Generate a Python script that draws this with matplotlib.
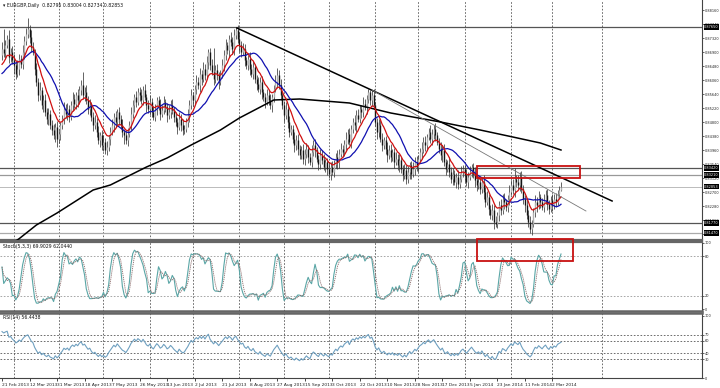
import numpy as np
import pandas as pd
import matplotlib
matplotlib.use('Agg')
import matplotlib.pyplot as plt
from matplotlib.patches import Rectangle

# ---- data ----
# MT4 daily bars incl. small Sunday bars (no Saturdays)
dates = pd.date_range('2013-02-21', '2014-03-07', freq='D')
dates = dates[dates.dayofweek != 5]

# closes before the first visible bar (only used to warm up the indicators)
warmup_close = [0.8560, 0.8600, 0.8575, 0.8620, 0.8590, 0.8570, 0.8610, 0.8640, 0.8605, 0.8585,
                0.8625, 0.8650, 0.8615, 0.8600, 0.8645, 0.8670, 0.8640, 0.8625, 0.8665, 0.8680]

close = [
    0.8700, 0.8688, 0.8712, 0.8730, 0.8676, 0.8690, 0.8665,
    0.8650, 0.8625, 0.8640, 0.8668, 0.8655, 0.8690,
    0.8722, 0.8745, 0.8760, 0.8735,
    0.8705, 0.8690, 0.8640, 0.8600, 0.8560, 0.8575, 0.8530, 0.8545, 0.8510, 0.8490, 0.8505, 0.8470,
    0.8455, 0.8440, 0.8465, 0.8430, 0.8445, 0.8470, 0.8490, 0.8520,
    0.8505, 0.8520, 0.8495, 0.8530, 0.8550, 0.8535, 0.8560, 0.8545, 0.8575, 0.8590, 0.8560,
    0.8570, 0.8545, 0.8520, 0.8530, 0.8495, 0.8470, 0.8480, 0.8450,
    0.8425, 0.8440, 0.8410, 0.8420, 0.8395, 0.8405, 0.8430, 0.8450,
    0.8470, 0.8495, 0.8480, 0.8510, 0.8490, 0.8470, 0.8450,
    0.8440, 0.8425, 0.8445, 0.8470,
    0.8505, 0.8530, 0.8555, 0.8540, 0.8570, 0.8560, 0.8545, 0.8575, 0.8555, 0.8530,
    0.8520, 0.8540, 0.8510, 0.8495, 0.8520, 0.8545, 0.8530, 0.8505, 0.8515, 0.8540, 0.8525, 0.8500,
    0.8510, 0.8530, 0.8515, 0.8495,
    0.8480, 0.8465, 0.8490, 0.8470, 0.8455, 0.8460, 0.8480,
    0.8500, 0.8530, 0.8560, 0.8545, 0.8580, 0.8600, 0.8590, 0.8625, 0.8610,
    0.8640, 0.8620, 0.8660, 0.8690, 0.8650, 0.8630, 0.8610, 0.8635, 0.8620, 0.8600, 0.8625, 0.8650,
    0.8680, 0.8710, 0.8695, 0.8730, 0.8720, 0.8700, 0.8740, 0.8755, 0.8730,
    0.8710, 0.8690, 0.8700, 0.8665, 0.8650, 0.8670, 0.8640, 0.8625, 0.8645, 0.8610, 0.8595, 0.8580, 0.8600,
    0.8570, 0.8555, 0.8540, 0.8560, 0.8545, 0.8530, 0.8555, 0.8580, 0.8600, 0.8620,
    0.8590, 0.8560, 0.8530, 0.8500, 0.8520, 0.8480, 0.8450, 0.8460, 0.8430, 0.8410, 0.8425, 0.8400,
    0.8380, 0.8395, 0.8370,
    0.8385, 0.8400, 0.8375, 0.8360, 0.8390, 0.8410, 0.8395, 0.8370, 0.8355, 0.8380, 0.8365, 0.8345,
    0.8360, 0.8340, 0.8325, 0.8345, 0.8330, 0.8355, 0.8375, 0.8360, 0.8385, 0.8400, 0.8390, 0.8415,
    0.8430, 0.8445, 0.8420, 0.8460, 0.8480, 0.8470, 0.8500, 0.8490, 0.8520, 0.8510, 0.8535, 0.8525,
    0.8550, 0.8570, 0.8545, 0.8560,
    0.8530, 0.8480, 0.8450, 0.8470, 0.8430, 0.8410, 0.8425, 0.8400, 0.8380, 0.8395, 0.8375, 0.8390, 0.8360,
    0.8370, 0.8350, 0.8365, 0.8340, 0.8320, 0.8335, 0.8310, 0.8330, 0.8350, 0.8325, 0.8340, 0.8360,
    0.8345, 0.8370, 0.8390,
    0.8400, 0.8420, 0.8410, 0.8435, 0.8450, 0.8430, 0.8445, 0.8460, 0.8440, 0.8420,
    0.8400, 0.8380, 0.8395, 0.8360, 0.8340, 0.8355, 0.8330, 0.8310, 0.8325, 0.8300, 0.8315, 0.8295, 0.8310,
    0.8330, 0.8340, 0.8320, 0.8300, 0.8315, 0.8330, 0.8345, 0.8325, 0.8305, 0.8290, 0.8300, 0.8280,
    0.8300, 0.8270, 0.8240, 0.8255, 0.8220, 0.8200, 0.8215, 0.8180, 0.8175,
    0.8200, 0.8230, 0.8215, 0.8250, 0.8240, 0.8225, 0.8250, 0.8270, 0.8290, 0.8275, 0.8310, 0.8300,
    0.8290, 0.8315,
    0.8280, 0.8250, 0.8230, 0.8200, 0.8180, 0.8160, 0.8175,
    0.8210, 0.8240, 0.8230, 0.8255, 0.8240, 0.8225, 0.8245, 0.8260, 0.8235, 0.8220, 0.8245, 0.8230,
    0.8250, 0.8240, 0.8265, 0.8275, 0.8285,
]

# wick lengths above / below the candle body, in pips
wick_up = [
    20, 60, 15, 10, 25, 12, 18, 20, 10, 25, 15, 12, 20, 15, 18, 32, 12, 20, 15, 10,
    18, 12, 25, 10, 15, 20, 12, 18, 10, 15, 20, 12, 18, 15, 10, 12, 20, 15, 18, 10,
    12, 20, 15, 10, 18, 12, 15, 40, 15, 20, 12, 18, 10, 15, 20, 12, 18, 10, 15, 20,
    12, 18, 10, 15, 20, 12, 18, 10, 15, 12, 20, 10, 15, 18, 12, 20, 15, 10, 18, 12,
    15, 20, 12, 18, 10, 15, 20, 12, 18, 15, 10, 12, 20, 15, 18, 10, 12, 20, 15, 18,
    10, 15, 12, 20, 15, 18, 10, 12, 20, 15, 18, 10, 12, 20, 15, 18, 12, 20, 15, 18,
    10, 12, 20, 72, 15, 18, 10, 12, 20, 15, 18, 10, 12, 20, 15, 18, 10, 15, 20, 12,
    18, 15, 10, 12, 20, 15, 18, 10, 12, 20, 15, 18, 10, 12, 20, 15, 18, 10, 12, 20,
    22, 15, 18, 10, 12, 20, 15, 18, 10, 12, 20, 15, 18, 10, 12, 20, 15, 18, 10, 12,
    20, 15, 18, 10, 12, 20, 15, 18, 10, 12, 20, 15, 18, 10, 12, 20, 15, 18, 10, 12,
    20, 15, 18, 10, 12, 20, 15, 18, 10, 12, 20, 15, 12, 8, 5, 15, 18, 10, 12, 20,
    15, 18, 10, 12, 20, 15, 18, 10, 12, 20, 15, 18, 10, 12, 20, 15, 18, 10, 12, 20,
    15, 18, 10, 12, 20, 15, 18, 10, 12, 20, 15, 12, 18, 10, 12, 20, 15, 18, 10, 12,
    20, 15, 18, 10, 12, 20, 15, 18, 10, 12, 20, 15, 18, 10, 12, 20, 15, 18, 10, 12,
    20, 15, 18, 10, 12, 20, 15, 18, 10, 12, 20, 15, 18, 10, 12, 20, 15, 18, 32, 12,
    20, 15, 18, 10, 12, 20, 15, 18, 10, 12, 20, 15, 18, 10, 12, 20, 15, 18, 10, 12,
    20, 15, 18, 10, 12, 15,
]
wick_dn = [
    15, 12, 20, 10, 18, 15, 12, 25, 15, 10, 18, 12, 15, 20, 10, 12, 18, 15, 10, 20,
    12, 18, 15, 10, 20, 12, 15, 18, 10, 15, 12, 20, 25, 12, 18, 10, 15, 12, 20, 15,
    10, 18, 12, 15, 20, 10, 15, 12, 18, 10, 15, 20, 12, 18, 10, 15, 12, 20, 15, 18,
    10, 15, 12, 18, 10, 20, 15, 12, 18, 10, 15, 25, 12, 18, 10, 15, 12, 20, 15, 10,
    18, 12, 15, 10, 20, 12, 18, 15, 10, 12, 20, 15, 18, 10, 12, 15, 20, 12, 18, 10,
    15, 12, 20, 10, 18, 15, 12, 10, 15, 20, 12, 18, 10, 15, 12, 20, 18, 10, 15, 12,
    20, 15, 10, 18, 12, 15, 20, 10, 12, 18, 15, 10, 20, 12, 15, 18, 10, 12, 20, 15,
    10, 18, 12, 15, 20, 10, 15, 12, 18, 10, 15, 20, 12, 18, 10, 15, 12, 20, 15, 10,
    18, 12, 15, 10, 20, 12, 18, 15, 10, 12, 20, 15, 18, 10, 12, 15, 20, 12, 18, 10,
    15, 12, 20, 10, 18, 15, 12, 10, 15, 20, 12, 18, 10, 15, 12, 20, 18, 10, 15, 12,
    20, 15, 10, 18, 12, 15, 20, 10, 12, 18, 15, 10, 20, 12, 15, 18, 10, 12, 20, 15,
    10, 18, 12, 15, 20, 10, 15, 12, 18, 10, 15, 20, 12, 18, 10, 15, 12, 20, 15, 10,
    18, 12, 15, 10, 20, 12, 18, 15, 10, 12, 20, 15, 18, 10, 12, 15, 20, 12, 18, 10,
    15, 12, 20, 10, 18, 15, 12, 10, 15, 20, 12, 18, 10, 15, 12, 20, 18, 10, 15, 12,
    20, 15, 10, 18, 12, 15, 20, 10, 12, 18, 15, 10, 20, 12, 15, 18, 10, 12, 20, 15,
    10, 18, 12, 15, 20, 10, 15, 13, 18, 10, 15, 20, 12, 18, 10, 15, 12, 20, 15, 10,
    18, 12, 15, 10, 12, 2,
]

# 200-period MA (black), read at a few bars
ma200_bar = [0, 10, 20, 32, 53, 63, 84, 96, 110, 127, 138, 158, 173, 202, 226, 255, 278, 297, 313, 325]
ma200_val = [0.8095, 0.8130, 0.8171, 0.8207, 0.8276, 0.8291, 0.8345, 0.8372, 0.8411, 0.8456,
             0.8492, 0.8546, 0.8549, 0.8537, 0.8507, 0.8480, 0.8456, 0.8435, 0.8417, 0.8396]

# horizontal levels drawn on the chart
levels = [0.8765, 0.8342, 0.8321, 0.8177, 0.8147]
level_colors = ['#555555', '#555555', '#999999', '#555555', '#aaaaaa']
bid = 0.82853

price_ticks = [0.8144, 0.8186, 0.8228, 0.8270, 0.8312, 0.8354, 0.8396, 0.8438, 0.8480,
               0.8522, 0.8564, 0.8606, 0.8648, 0.8690, 0.8732, 0.8774, 0.8816]

date_labels = ['21 Feb 2013', '12 Mar 2013', '31 Mar 2013', '18 Apr 2013', '7 May 2013',
               '26 May 2013', '13 Jun 2013', '2 Jul 2013', '21 Jul 2013', '8 Aug 2013',
               '27 Aug 2013', '15 Sep 2013', '3 Oct 2013', '22 Oct 2013', '10 Nov 2013',
               '28 Nov 2013', '17 Dec 2013', '5 Jan 2014', '23 Jan 2014', '11 Feb 2014',
               '2 Mar 2014']

# trend lines (bar, price) pairs
trend_thick = [(136.6, 0.8762), (354.7, 0.8243)]
trend_thin = [(215.1, 0.8576), (339.5, 0.8213)]

# ---- series ----
close = np.array(close)
n = len(close)
dates = dates[:n]
open_ = np.r_[warmup_close[-1], close[:-1]]
high = np.maximum(open_, close) + np.array(wick_up) / 10000
low = np.minimum(open_, close) - np.array(wick_dn) / 10000
x = np.arange(n)

w = len(warmup_close)
cl_all = pd.Series(np.r_[warmup_close, close])
ma_fast = cl_all.ewm(span=10, adjust=False).mean().iloc[w:].values
ma_slow = cl_all.rolling(20, min_periods=1).mean().iloc[w:].values

delta = cl_all.diff()
gain = delta.clip(lower=0).ewm(alpha=1/14, adjust=False).mean()
loss = (-delta.clip(upper=0)).ewm(alpha=1/14, adjust=False).mean()
rsi = (100 - 100 / (1 + gain / loss)).iloc[w:].values

cl = pd.Series(close)
hh = pd.Series(high).rolling(5, min_periods=1).max()
ll = pd.Series(low).rolling(5, min_periods=1).min()
stoch_k = (cl - ll).rolling(3, min_periods=1).sum() / (hh - ll).rolling(3, min_periods=1).sum() * 100
stoch_d = stoch_k.rolling(3, min_periods=1).mean()

# ---- figure ----
W, H = 720, 388
fig = plt.figure(figsize=(W/100, H/100), dpi=100)
plt.rcParams['font.family'] = 'DejaVu Sans'
FS = 2.5  # MT4 uses tiny labels at this size

def px_axes(x0, y0, x1, y1):
    return fig.add_axes([x0/W, 1 - y1/H, (x1 - x0)/W, (y1 - y0)/H])

ax = px_axes(0, 0, 702, 240)
ax_st = px_axes(0, 242, 702, 311)
ax_rsi = px_axes(0, 313, 702, 378)

px_per_bar = 1.72
xlim = (-2/px_per_bar, 700/px_per_bar)

month_sep = [i for i in range(1, n) if dates[i].month != dates[i-1].month] + [349]

for a in (ax, ax_st, ax_rsi):
    a.set_xlim(*xlim)
    a.set_facecolor('white')
    for s in a.spines.values():
        s.set_color('#444444')
        s.set_linewidth(0.8)
    a.spines['left'].set_visible(False)
    a.yaxis.tick_right()
    a.tick_params(axis='y', labelsize=FS, length=1.2, width=0.5, pad=0.5, colors='#222222')
    a.tick_params(axis='x', length=0)
    a.set_xticks([])
    for m in month_sep:
        a.axvline(m, color='#555555', lw=0.6, ls=(0, (2, 2)), zorder=0)

ax.spines['top'].set_visible(False)
ax.spines['bottom'].set_linewidth(1.6)
ax.spines['bottom'].set_color('#666666')
ax_st.spines['top'].set_linewidth(1.6)
ax_st.spines['top'].set_color('#666666')
ax_st.spines['bottom'].set_linewidth(1.8)
ax_st.spines['bottom'].set_color('#666666')
ax_rsi.spines['top'].set_linewidth(1.8)
ax_rsi.spines['top'].set_color('#666666')

# main price panel
ax.set_ylim(0.8126, 0.8846)
ax.set_yticks(price_ticks)
ax.set_yticklabels([f'{p:.5f}' for p in price_ticks])

for lv, c in zip(levels, level_colors):
    ax.axhline(lv, color=c, lw=0.9, zorder=1)
ax.axhline(bid, color='#bbbbbb', lw=0.7, zorder=1)

ax.vlines(x, low, high, color='#3a3a3a', lw=0.55, zorder=2)
up = close >= open_
ax.vlines(x[up], open_[up], close[up], color='#b0b0b0', lw=1.0, zorder=3)
ax.vlines(x[~up], close[~up], open_[~up], color='#151515', lw=1.0, zorder=3)

ax.plot(ma200_bar, ma200_val, color='black', lw=1.1, zorder=4)
ax.plot(x, ma_slow, color='#1010b0', lw=0.9, zorder=5)
ax.plot(x, ma_fast, color='#d01010', lw=0.9, zorder=6)

(x0, y0), (x1, y1) = trend_thick
ax.plot([x0, x1], [y0, y1], color='black', lw=1.1, zorder=6)
(x0, y0), (x1, y1) = trend_thin
ax.plot([x0, x1], [y0, y1], color='#777777', lw=0.6, zorder=6)

ax.add_patch(Rectangle((276.2, 0.8312), 59.8, 0.0036, fill=False, ec='#c81010', lw=1.3, zorder=7))

ytr = ax.get_yaxis_transform()
for lv in levels[:3] + [bid] + levels[3:]:
    ax.text(1.003, lv, f'{lv:.5f}', transform=ytr, fontsize=FS, color='white', va='center',
            ha='left', clip_on=False, zorder=10,
            bbox=dict(boxstyle='square,pad=0.15', fc='black', ec='none'))

ax.text(0.004, 0.988, '\u25BE EURGBP,Daily  0.82795 0.83004 0.82734 0.82853', transform=ax.transAxes,
        fontsize=3.3, va='top', ha='left', color='#111111')

# stochastic panel
ax_st.set_ylim(-3, 101.5)
ax_st.set_yticks([100, 80, 20, 0])
for lv in (80, 20):
    ax_st.axhline(lv, color='#999999', lw=0.6, ls=(0, (2, 2)), zorder=0)
ax_st.plot(x, stoch_k, color='#5aa6a6', lw=0.8)
ax_st.plot(x, stoch_d, color='#8c6c6c', lw=0.6, ls=(0, (1.5, 1)))
ax_st.add_patch(Rectangle((276.2, 72), 55.8, 34, fill=False, ec='#c81010', lw=1.3, clip_on=False, zorder=7))
ax_st.text(0.004, 0.97, 'Stoch(5,3,3) 69.9029 62.0440', transform=ax_st.transAxes,
           fontsize=3.3, va='top', ha='left', color='#111111')

# RSI panel
ax_rsi.set_ylim(0, 104.8)
ax_rsi.set_yticks([100, 70, 60, 40, 30, 0])
for lv in (70, 60, 40, 30):
    ax_rsi.axhline(lv, color='#555555', lw=0.6, ls=(0, (2, 2)), zorder=0)
ax_rsi.plot(x, rsi, color='#6fa0c0', lw=0.8)
ax_rsi.text(0.004, 0.97, 'RSI(14) 56.4438', transform=ax_rsi.transAxes,
            fontsize=3.3, va='top', ha='left', color='#111111')

label_pos = [int(np.searchsorted(dates, pd.to_datetime(d, format='%d %b %Y'))) for d in date_labels]
ax_rsi.set_xticks(label_pos)
ax_rsi.set_xticklabels(date_labels, fontsize=3.2, ha='left', color='#222222')
ax_rsi.tick_params(axis='x', length=2, width=0.5, pad=1.5)

fig.savefig('out.png', dpi=100, facecolor='white')
